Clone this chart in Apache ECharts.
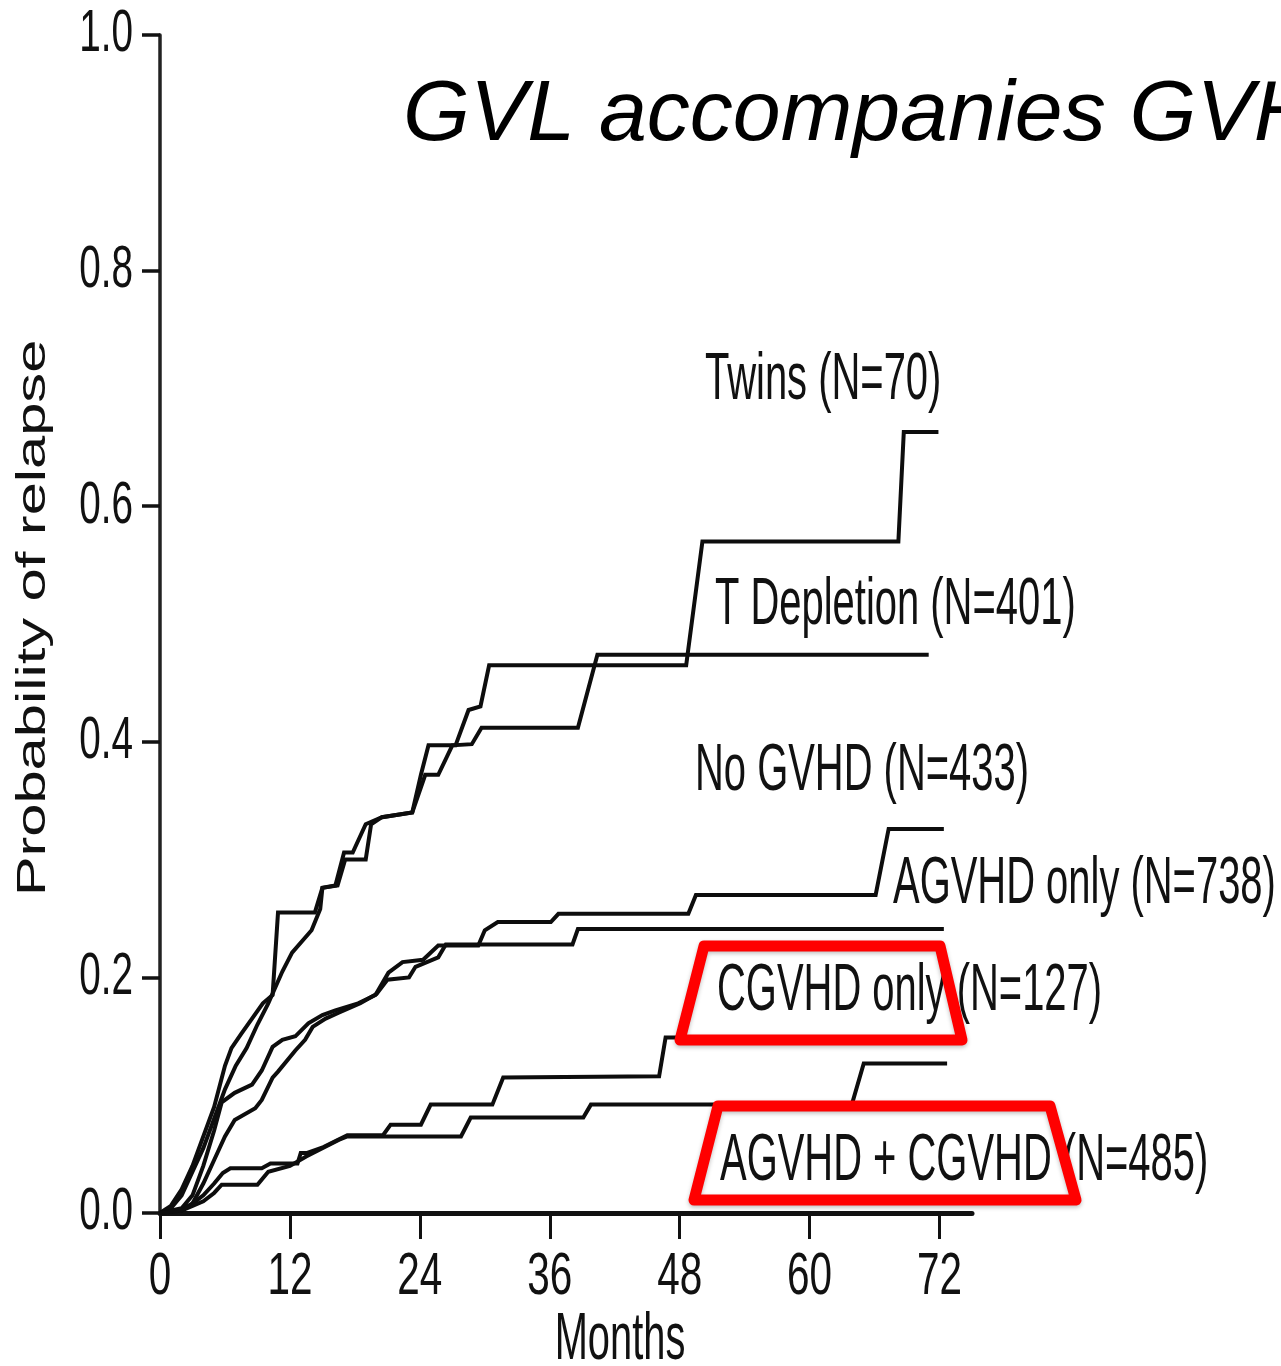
<!DOCTYPE html>
<html>
<head>
<meta charset="utf-8">
<script src="https://cdn.jsdelivr.net/npm/echarts@6/dist/echarts.min.js"></script>
<style>
html,body{margin:0;padding:0;background:#fff;}
#chart{width:1281px;height:1366px;}
</style>
</head>
<body>
<div id="chart"></div>
<script>
// ---- data (months, probability of relapse) ----
const twins = [[0,0],[1,0.006],[2,0.02],[3,0.04],[4,0.065],[5,0.09],[6,0.125],[6.6,0.14],[7.5,0.152],[8.5,0.165],[9.5,0.178],[10.4,0.185],[10.9,0.255],[14.3,0.255],[15,0.276],[16.2,0.278],[17,0.306],[17.8,0.306],[19,0.33],[20.5,0.336],[23.3,0.34],[24.1,0.372],[24.8,0.397],[27.3,0.397],[28.5,0.427],[29.6,0.43],[30.4,0.465],[48.6,0.465],[50.1,0.57],[68.2,0.57],[68.7,0.663],[71.9,0.663]];
const tDepletion = [[0,0],[1,0.004],[2,0.015],[3,0.035],[4,0.055],[5,0.08],[6,0.105],[7,0.125],[8,0.14],[9,0.16],[10,0.178],[11.3,0.205],[12.2,0.221],[14,0.24],[14.8,0.258],[15,0.276],[16.4,0.278],[17.1,0.3],[19,0.3],[19.5,0.33],[20.5,0.336],[23.3,0.34],[24.5,0.372],[25.7,0.372],[27,0.397],[28.8,0.398],[29.7,0.412],[38.6,0.412],[40.4,0.474],[71,0.474]];
const noGvhd = [[0,0],[2,0.004],[3,0.015],[4,0.04],[5,0.07],[5.7,0.094],[6.9,0.102],[8.5,0.109],[9.4,0.121],[10.4,0.141],[11.3,0.147],[12.5,0.15],[13.7,0.161],[15,0.168],[16.2,0.172],[18.3,0.178],[19.9,0.185],[21.1,0.204],[22.4,0.213],[24.3,0.215],[25.7,0.227],[29.4,0.227],[30,0.24],[31.2,0.247],[36.1,0.247],[36.8,0.254],[48.8,0.254],[49.5,0.27],[66.1,0.27],[67.3,0.326],[72.4,0.326]];
const agvhdOnly = [[0,0],[2,0.002],[3,0.008],[4,0.025],[5,0.045],[6,0.065],[6.9,0.079],[8.8,0.089],[9.4,0.096],[10.4,0.115],[10.9,0.12],[12.5,0.138],[13.4,0.147],[14.1,0.158],[15.3,0.165],[16.5,0.17],[18.5,0.178],[20,0.186],[21,0.198],[23,0.2],[23.6,0.209],[25.7,0.217],[26.4,0.228],[38.1,0.228],[38.6,0.241],[72.4,0.241]];
const cgvhdOnly = [[0,0],[2,0.003],[3,0.008],[4,0.015],[5,0.025],[5.8,0.034],[6.5,0.038],[9.4,0.038],[10.2,0.042],[12.7,0.042],[13,0.051],[13.6,0.051],[15.1,0.056],[16.4,0.062],[17.3,0.066],[20.6,0.066],[21.3,0.075],[24.1,0.075],[25,0.092],[30.7,0.092],[31.7,0.115],[46.1,0.116],[46.7,0.149],[72.5,0.149]];
const agvhdCgvhd = [[0,0],[2,0.002],[3,0.006],[4,0.01],[5,0.017],[5.7,0.024],[9,0.024],[10,0.035],[12,0.04],[13.5,0.048],[15,0.055],[16.5,0.062],[17.3,0.065],[27.8,0.065],[28.7,0.081],[39.1,0.081],[39.8,0.092],[63.9,0.092],[65,0.127],[72.7,0.127]];

const seriesNames = ['Twins (N=70)','T Depletion (N=401)','No GVHD (N=433)','AGVHD only (N=738)','CGVHD only (N=127)','AGVHD + CGVHD (N=485)'];
const xTicks = [0,12,24,36,48,60,72];
const yTicks = [0,0.2,0.4,0.6,0.8,1.0];
const xTickLabels = ['0','12','24','36','48','60','72'];
const yTickLabels = ['0.0','0.2','0.4','0.6','0.8','1.0'];
const titleText = 'GVL accompanies GVHD';
const xName = 'Months';
const yName = 'Probability of relapse';

const FONT = '"Liberation Sans",Arial,sans-serif';
const chart = echarts.init(document.getElementById('chart'), null, {renderer:'canvas'});

const curves = [twins, tDepletion, noGvhd, agvhdOnly, cgvhdOnly, agvhdCgvhd];
const series = curves.map((d,i)=>({
  name: seriesNames[i], type:'line', data:d, symbol:'none', silent:true,
  lineStyle:{color:'#0d0d0d', width:4, join:'miter'}, z:2
}));

chart.setOption({
  animation:false,
  backgroundColor:'#fff',
  title:{text:titleText, left:398, top:68,
    textStyle:{fontFamily:FONT, fontStyle:'italic', fontWeight:'normal', fontSize:86, color:'#000'}},
  grid:{left:160, right:309, top:35, bottom:153},
  xAxis:{type:'value', min:0, max:75, interval:12,
    axisLine:{lineStyle:{color:'#111', width:5}},
    axisTick:{show:true, length:26, customValues:xTicks, lineStyle:{color:'#111', width:3}},
    axisLabel:{show:false},
    splitLine:{show:false}},
  yAxis:{type:'value', min:0, max:1, interval:0.2,
    axisLine:{show:true, lineStyle:{color:'#222', width:3.5}},
    axisTick:{show:true, length:18, lineStyle:{color:'#111', width:3.5}},
    axisLabel:{show:false},
    splitLine:{show:false}},
  series:series
});

// condensed, vertically stretched text like the scanned figure
function txt(text, x, y, size, sx, sy, align, extra){
  return Object.assign({type:'text', x:x, y:y, scaleX:sx, scaleY:sy, z:10,
    style:{text:text, font:size+'px '+FONT, fill:'#111', align:align, verticalAlign:'middle'}}, extra||{});
}
function box(points){
  return {type:'polygon', z:20, shape:{points:points},
    style:{fill:'none', stroke:'#ff0000', lineWidth:11, lineJoin:'round',
      shadowBlur:4, shadowColor:'rgba(0,0,0,0.25)', shadowOffsetY:2}};
}

// tick labels placed through the axes' own scales
const axisY0 = chart.convertToPixel({yAxisIndex:0}, 0);
const axisX0 = chart.convertToPixel({xAxisIndex:0}, 0);
const tickGraphics = [];
xTicks.forEach((v,i)=>{
  const px = chart.convertToPixel({xAxisIndex:0}, v);
  tickGraphics.push(txt(xTickLabels[i], px, axisY0 + 65, 44, 0.92, 1.35, 'center'));
});
yTicks.forEach((v,i)=>{
  const py = chart.convertToPixel({yAxisIndex:0}, v);
  tickGraphics.push(txt(yTickLabels[i], axisX0 - 27, py, 44, 0.88, 1.35, 'right'));
});

const SX = 0.815, SY = 1.37;
chart.setOption({
  graphic: tickGraphics.concat([
    txt(seriesNames[0], 705, 380, 49, SX, SY, 'left'),
    txt(seriesNames[1], 715, 605, 49, SX, SY, 'left'),
    txt(seriesNames[2], 695, 771, 49, SX, SY, 'left'),
    txt(seriesNames[3], 893, 884, 49, SX, SY, 'left'),
    txt(seriesNames[4], 717, 991, 49, SX, SY, 'left'),
    txt(seriesNames[5], 720, 1161, 49, SX, SY, 'left'),
    txt(xName, 620, 1341, 48, 0.83, SY, 'center'),
    txt(yName, 34, 618, 40, 1.49, 1.0, 'center', {rotation:Math.PI/2}),
    box([[704,946],[940,946],[962,1040],[680,1040]]),
    box([[718,1106],[1050,1106],[1076,1200],[694,1200]])
  ])
});
</script>
</body>
</html>
